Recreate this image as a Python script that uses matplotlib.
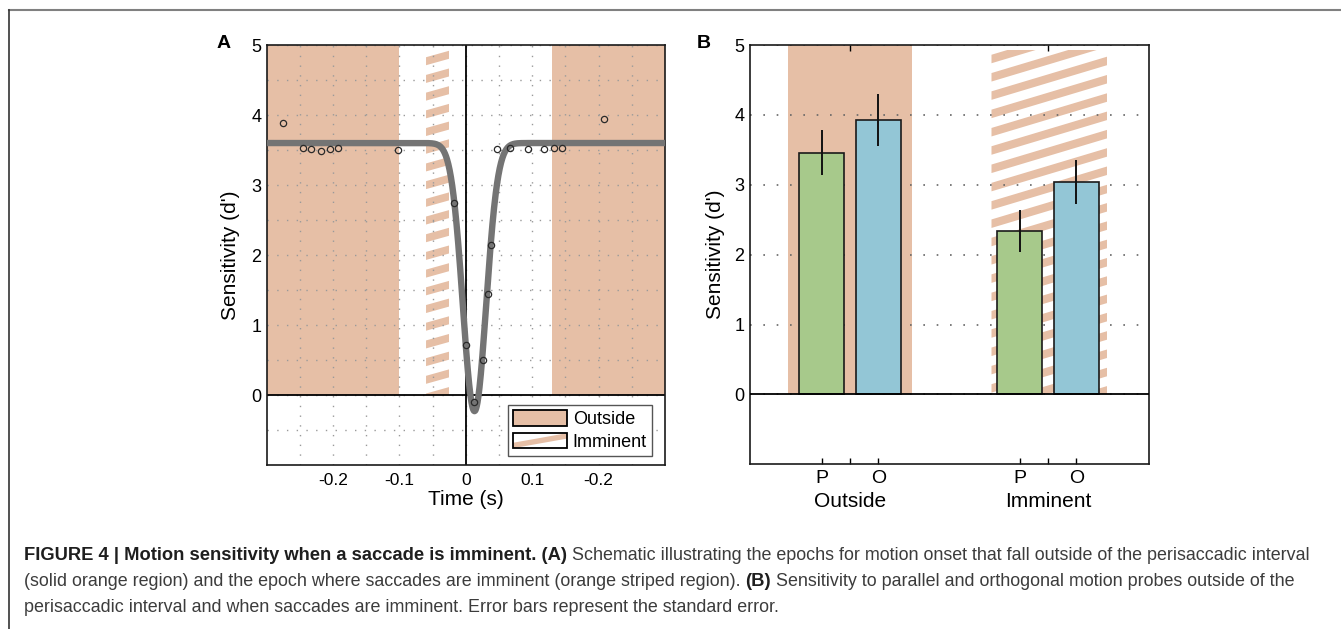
import numpy as np
import matplotlib
matplotlib.use("Agg")
import matplotlib.pyplot as plt
from matplotlib.patches import Rectangle, Polygon, Patch
from matplotlib.legend_handler import HandlerBase
from matplotlib.lines import Line2D

plt.rcParams['font.family'] = ['Liberation Sans', 'DejaVu Sans']

# panel A: single-session sensitivity around saccade onset
time_pts = [-0.275, -0.246, -0.233, -0.2185, -0.204, -0.193, -0.102, -0.0185,
            0.0005, 0.0125, 0.0255, 0.0335, 0.0375,
            0.0465, 0.066, 0.093, 0.118, 0.1335, 0.145, 0.208]
sens_pts = [3.89, 3.53, 3.51, 3.49, 3.52, 3.53, 3.50, 2.75,
            0.71, -0.095, 0.50, 1.45, 2.15,
            3.52, 3.53, 3.52, 3.51, 3.53, 3.53, 3.94]
# inverted gaussian fit
fit_base = 3.6
fit_depth = 3.83
fit_center = 0.013
fit_sigma = 0.0175

xtick_vals = [-0.2, -0.1, 0, 0.1, 0.2]
xtick_labels = ['-0.2', '-0.1', '0', '0.1', '-0.2']

# epochs (s)
outside_early = (-0.3, -0.1)
outside_late = (0.13, 0.3)
imminent_win = (-0.06, -0.025)

# panel B: group means and standard errors
conditions = ['Outside', 'Imminent']
par_mean = [3.46, 2.34]
orth_mean = [3.93, 3.04]
par_sem = [0.32, 0.30]
orth_sem = [0.37, 0.32]

ORANGE = '#e6bfa6'
GREEN = '#a7c98b'
BLUE = '#93c6d6'
GRID_A = '#9a9a9a'


def stripe_fill(ax, x0, x1, y0, y1, period=18.0, band=8.0, slope=0.28, phase=0.0):
    # diagonal stripes drawn in pixel space, clipped to the region
    tr = ax.transData
    (px0, py0), (px1, py1) = tr.transform([(x0, y0), (x1, y1)])
    inv = tr.inverted()
    clip = Rectangle((x0, y0), x1 - x0, y1 - y0, transform=ax.transData,
                     facecolor='none', edgecolor='none')
    ax.add_patch(clip)
    w = px1 - px0
    k = py0 - slope * w - period + phase
    while k < py1:
        quad = [(px0, k), (px1, k + slope * w), (px1, k + slope * w + band), (px0, k + band)]
        poly = Polygon(inv.transform(quad), closed=True, facecolor=ORANGE,
                       edgecolor='none', zorder=1)
        ax.add_patch(poly)
        poly.set_clip_path(clip)
        k += period


class StripeHandler(HandlerBase):
    def create_artists(self, legend, orig_handle, xdescent, ydescent,
                       width, height, fontsize, trans):
        x0, y0 = -xdescent, -ydescent
        bg = Rectangle((x0, y0), width, height, facecolor='white', edgecolor='none',
                       transform=trans)
        band = Polygon([(x0, y0), (x0, y0 + 0.35 * height),
                        (x0 + width, y0 + 0.97 * height), (x0 + width, y0 + 0.62 * height)],
                       closed=True, facecolor=ORANGE, edgecolor='none', transform=trans)
        edge = Rectangle((x0, y0), width, height, facecolor='none', edgecolor='black',
                         lw=1.3, transform=trans)
        return [bg, band, edge]


fig = plt.figure(figsize=(13.41, 6.29), dpi=100)

# ---------------- panel A ----------------
ax = fig.add_axes([0.1989, 0.2607, 0.2970, 0.6677])
ax.set_xlim(-0.3, 0.3)
ax.set_ylim(-1, 5)
for lo, hi in [outside_early, outside_late]:
    ax.add_patch(Rectangle((lo, 0), hi - lo, 5, facecolor=ORANGE, edgecolor='none', zorder=1))
stripe_fill(ax, imminent_win[0], imminent_win[1], 0, 4.93, period=17.7, band=8.0, slope=0.28)

t = np.linspace(-0.3, 0.3, 1201)
fit = fit_base - fit_depth * np.exp(-(t - fit_center) ** 2 / (2 * fit_sigma ** 2))
ax.plot(t, fit, color='#747474', lw=4.6, solid_capstyle='round', zorder=3)
ax.plot(time_pts, sens_pts, 'o', ms=4.5, mfc='none', mec='#2a2a2a', mew=0.9, zorder=4)
ax.axhline(0, color='black', lw=1.3, zorder=2)
ax.axvline(0, color='black', lw=1.3, zorder=2)

ax.set_xticks(xtick_vals)
ax.set_xticklabels(xtick_labels)
ax.set_xticks(np.arange(-0.25, 0.3, 0.1), minor=True)
ax.set_yticks(range(0, 6))
ax.set_yticks(np.arange(-0.5, 5, 1.0), minor=True)
ax.set_axisbelow('line')
ax.grid(which='both', color=GRID_A, lw=1.0, ls=(0, (1, 6)))
ax.tick_params(which='both', length=0)
ax.tick_params(axis='x', labelsize=12.5, pad=5.5)
ax.tick_params(axis='y', labelsize=13, pad=4)
ax.set_xlabel('Time (s)', fontsize=15, labelpad=2)
ax.set_ylabel("Sensitivity (d')", fontsize=15, labelpad=8)
for s in ax.spines.values():
    s.set_linewidth(1.2)
    s.set_color('#1a1a1a')

outside_h = Patch(facecolor=ORANGE, edgecolor='black', lw=1.3)
imminent_h = Patch(facecolor='white', edgecolor='black')
leg = ax.legend([outside_h, imminent_h], ['Outside', 'Imminent'],
                handler_map={imminent_h: StripeHandler()},
                loc='upper right', bbox_to_anchor=(0.968, 0.1436), borderaxespad=0,
                fontsize=13, handlelength=3.0, handleheight=0.95, handletextpad=0.3,
                labelspacing=0.25, borderpad=0.3, fancybox=False, framealpha=1)
leg.get_frame().set_edgecolor('#555555')
leg.get_frame().set_linewidth(1.0)
leg.set_zorder(6)

# ---------------- panel B ----------------
bx = fig.add_axes([0.5593, 0.2618, 0.2978, 0.6666])
bx.set_xlim(-0.267, 6.79)
bx.set_ylim(-1, 5)
centers = np.array([1.5, 5.0])
bx.add_patch(Rectangle((centers[0] - 1.1, 0), 2.2, 5, facecolor=ORANGE, edgecolor='none', zorder=1))
stripe_fill(bx, centers[1] - 1.0, centers[1] + 1.05, 0, 4.93, period=18.3, band=8.5, slope=0.3)

bx.bar(centers - 0.5, par_mean, width=0.8, color=GREEN, edgecolor='#1a1a1a', lw=1.2, zorder=3)
bx.bar(centers + 0.5, orth_mean, width=0.8, color=BLUE, edgecolor='#1a1a1a', lw=1.2, zorder=3)
bx.errorbar(centers - 0.5, par_mean, yerr=par_sem, fmt='none', ecolor='#111111', elinewidth=1.4,
            capsize=0, zorder=4)
bx.errorbar(centers + 0.5, orth_mean, yerr=orth_sem, fmt='none', ecolor='#111111', elinewidth=1.4,
            capsize=0, zorder=4)
bx.axhline(0, color='black', lw=1.3, zorder=5)

bx.set_yticks(range(0, 6))
bx.yaxis.grid(True, color='#666666', lw=1.2, ls=(0, (1, 7)))
bx.set_axisbelow('line')
bx.tick_params(axis='y', length=0, labelsize=13, pad=4)
bx.set_xticks(centers)
bx.set_xticklabels(conditions)
bx.set_xticks(np.concatenate([centers - 0.5, centers + 0.5]), minor=True)
bx.set_xticklabels(['P', 'P', 'O', 'O'], minor=True)
bx.tick_params(axis='x', which='major', direction='in', length=4, width=1, top=True,
               labelsize=15, pad=20)
bx.tick_params(axis='x', which='minor', direction='in', length=4, width=1, top=False,
               labelsize=14, pad=4)
bx.set_ylabel("Sensitivity (d')", fontsize=15, labelpad=7)
for s in bx.spines.values():
    s.set_linewidth(1.2)
    s.set_color('#1a1a1a')

fig.text(224 / 1341, 1 - 44 / 629, 'A', fontsize=14, fontweight='bold', ha='center', va='center')
fig.text(704 / 1341, 1 - 44 / 629, 'B', fontsize=14, fontweight='bold', ha='center', va='center')

# outer frame
fig.add_artist(Line2D([9 / 1341, 1], [1 - 10 / 629] * 2, color='#808080', lw=1.5))
fig.add_artist(Line2D([9 / 1341] * 2, [0, 1 - 10 / 629], color='#333333', lw=1.2))

# caption, laid out run by run
caption = [
    [("FIGURE 4 | Motion sensitivity when a saccade is imminent. (A)", 'bold'),
     (" Schematic illustrating the epochs for motion onset that fall outside of the perisaccadic interval", 'normal')],
    [("(solid orange region) and the epoch where saccades are imminent (orange striped region). ", 'normal'),
     ("(B)", 'bold'),
     (" Sensitivity to parallel and orthogonal motion probes outside of the", 'normal')],
    [("perisaccadic interval and when saccades are imminent. Error bars represent the standard error.", 'normal')],
]
renderer = fig.canvas.get_renderer()
line_y = [556, 582, 608]
for runs, y in zip(caption, line_y):
    x = 24
    for txt, wt in runs:
        bold = wt == 'bold'
        tx = fig.text(x / 1341, 1 - y / 629, txt, fontsize=13.2 if bold else 12.85,
                      fontweight=wt, color='#1e1e1e' if bold else '#3c3c3c',
                      va='center', ha='left')
        x += tx.get_window_extent(renderer).width

fig.savefig('out.png', dpi=100)
